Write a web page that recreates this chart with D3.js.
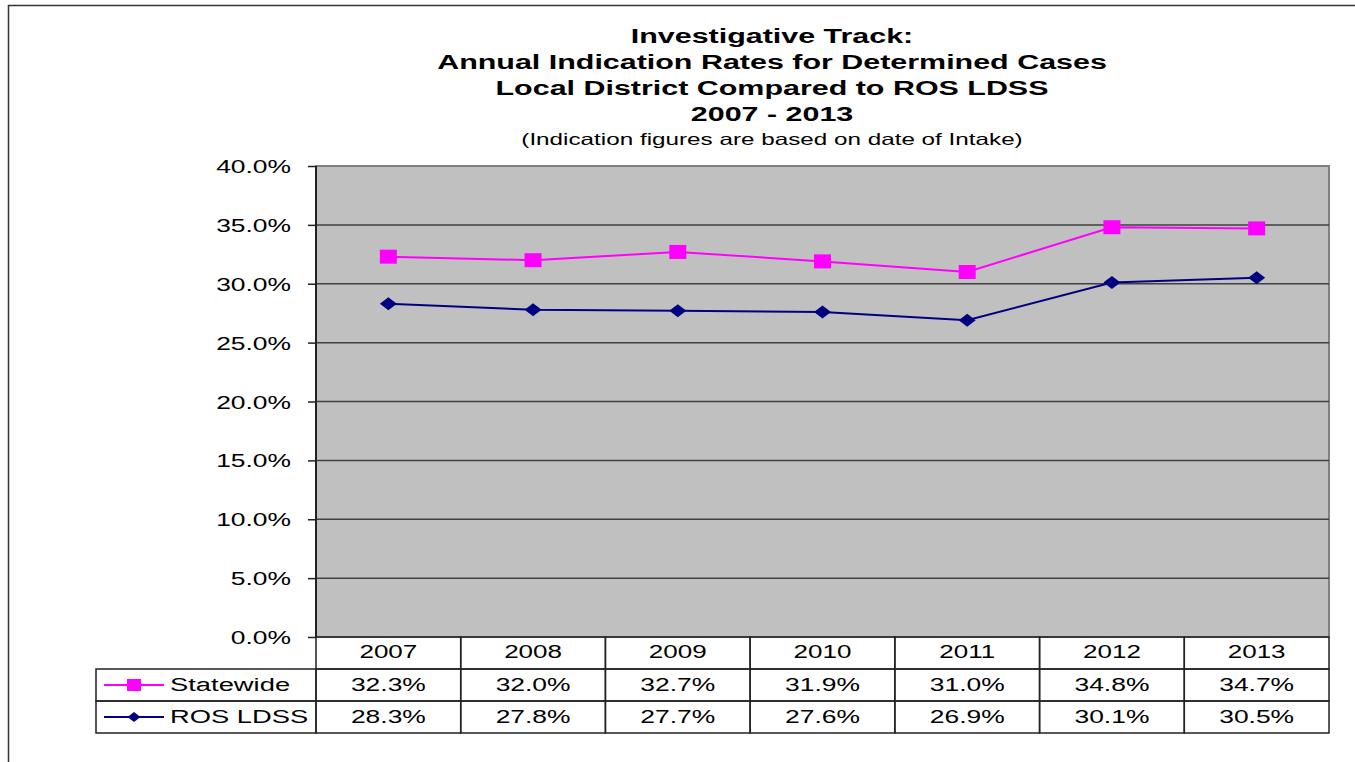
<!DOCTYPE html>
<html>
<head>
<meta charset="utf-8">
<script src="https://cdn.jsdelivr.net/npm/d3@7"></script>
<style>
  body { margin: 0; background: #fff; }
  text { font-family: "Liberation Sans", Arial, sans-serif; fill: #000; }
</style>
</head>
<body>
<div class="chart"></div>
<script>
const years = ["2007", "2008", "2009", "2010", "2011", "2012", "2013"];
const statewide = [32.3, 32.0, 32.7, 31.9, 31.0, 34.8, 34.7];
const rosLdss = [28.3, 27.8, 27.7, 27.6, 26.9, 30.1, 30.5];
const yTicks = [0, 5, 10, 15, 20, 25, 30, 35, 40];
const titleLines = ["Investigative Track:", "Annual Indication Rates for Determined Cases",
  "Local District Compared to ROS LDSS", "2007 - 2013"];
const subtitle = "(Indication figures are based on date of Intake)";

const W = 1355, H = 762;
const plot = {left: 316, right: 1329, top: 166, bottom: 637};
const rowH = 32;

const svg = d3.select(".chart").append("svg")
    .attr("width", W)
    .attr("height", H);

// the original text is stretched sideways, so scale each label in x
function label(g, x, y, s, size, sx, anchor, bold) {
    return g.append("text")
        .attr("transform", `translate(${x},${y}) scale(${sx},1)`)
        .attr("text-anchor", anchor || "middle")
        .attr("font-size", size)
        .attr("font-weight", bold ? "bold" : "normal")
        .text(s);
}

// outer frame
svg.append("rect")
    .attr("x", 8.5).attr("y", 5.5)
    .attr("width", W + 20).attr("height", H + 20)
    .attr("fill", "none").attr("stroke", "#333").attr("stroke-width", 1.5);

// titles
titleLines.forEach((t, i) => label(svg, 772, 43 + i * 26, t, 21, 1.45, "middle", true));
label(svg, 772, 145, subtitle, 16.5, 1.47, "middle");

const xScale = d3.scaleBand()
    .domain(years)
    .range([plot.left, plot.right]);

const yScale = d3.scaleLinear()
    .domain([0, 40])
    .range([plot.bottom, plot.top]);

// plot background
svg.append("rect")
    .attr("x", plot.left).attr("y", plot.top)
    .attr("width", plot.right - plot.left).attr("height", plot.bottom - plot.top)
    .attr("fill", "#c0c0c0")
    .attr("stroke", "#808080").attr("stroke-width", 2);

// grid
svg.append("g")
    .selectAll("line")
    .data(yTicks.filter(d => d > 0 && d < 40))
    .join("line")
    .attr("x1", plot.left).attr("x2", plot.right)
    .attr("y1", d => yScale(d)).attr("y2", d => yScale(d))
    .attr("stroke", "#404040").attr("stroke-width", 1.5);

// y axis: ticks from d3, labels drawn stretched
const yAxis = d3.axisLeft(yScale)
    .tickValues(yTicks)
    .tickSize(8)
    .tickFormat("");

svg.append("g")
    .attr("class", "axis y-axis")
    .attr("transform", `translate(${plot.left},0)`)
    .call(yAxis)
    .call(g => g.select(".domain").remove())
    .call(g => g.selectAll("line").attr("stroke", "#222").attr("stroke-width", 1.5));

const yLabels = svg.append("g");
yTicks.forEach(v => label(yLabels, 291, yScale(v) + 7, v.toFixed(1) + "%", 19, 1.39, "end"));

svg.append("line")
    .attr("x1", plot.left).attr("x2", plot.left)
    .attr("y1", plot.top).attr("y2", plot.bottom)
    .attr("stroke", "#222").attr("stroke-width", 2);

// series lines
const cx = d => xScale(d) + xScale.bandwidth() / 2;
const line = d3.line()
    .x((d, i) => cx(years[i]))
    .y(d => yScale(d));

svg.append("path")
    .datum(statewide)
    .attr("fill", "none").attr("stroke", "#ff00ff").attr("stroke-width", 2)
    .attr("d", line);

svg.append("path")
    .datum(rosLdss)
    .attr("fill", "none").attr("stroke", "#000080").attr("stroke-width", 2)
    .attr("d", line);

// markers: squares are a bit wider than tall, diamonds are flattened
const squarePath = (w, h) => `M${-w/2},${-h/2}h${w}v${h}h${-w}Z`;
const diamondPath = (w, h) => `M${-w/2},0L0,${-h/2}L${w/2},0L0,${h/2}Z`;

svg.append("g")
    .selectAll("path")
    .data(statewide)
    .join("path")
    .attr("transform", (d, i) => `translate(${cx(years[i])},${yScale(d)})`)
    .attr("d", squarePath(17, 14))
    .attr("fill", "#ff00ff");

svg.append("g")
    .selectAll("path")
    .data(rosLdss)
    .join("path")
    .attr("transform", (d, i) => `translate(${cx(years[i])},${yScale(d)})`)
    .attr("d", diamondPath(17, 13))
    .attr("fill", "#000080");

// data table
const table = svg.append("g").attr("class", "table");
const legendLeft = 96;
const tableTop = plot.bottom;
const rows = [
    {name: "Statewide", values: statewide, color: "#ff00ff", mark: squarePath(14, 12)},
    {name: "ROS LDSS", values: rosLdss, color: "#000080", mark: diamondPath(13, 10)}
];

function cell(x, y, w) {
    table.append("rect")
        .attr("x", x).attr("y", y)
        .attr("width", w).attr("height", rowH)
        .attr("fill", "none").attr("stroke", "#222").attr("stroke-width", 1.5);
}

// header row
years.forEach(y => {
    cell(xScale(y), tableTop, xScale.bandwidth());
    label(table, cx(y), tableTop + 21, y, 19, 1.37, "middle");
});

rows.forEach((r, ri) => {
    const ry = tableTop + rowH * (ri + 1);
    cell(legendLeft, ry, plot.left - legendLeft);
    table.append("line")
        .attr("x1", 104).attr("x2", 164)
        .attr("y1", ry + rowH / 2).attr("y2", ry + rowH / 2)
        .attr("stroke", r.color).attr("stroke-width", 2);
    table.append("path")
        .attr("transform", `translate(134,${ry + rowH / 2})`)
        .attr("d", r.mark)
        .attr("fill", r.color);
    label(table, 170, ry + 22, r.name, 19, 1.44, "start");
    years.forEach((y, i) => {
        cell(xScale(y), ry, xScale.bandwidth());
        label(table, cx(y), ry + 22, r.values[i].toFixed(1) + "%", 19, 1.39, "middle");
    });
});
</script>
</body>
</html>
